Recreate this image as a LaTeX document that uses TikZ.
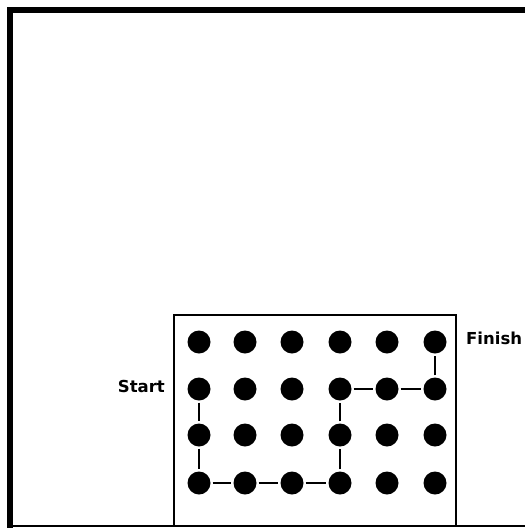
\documentclass[tikz,border=0pt]{standalone}
\usepackage{fontspec}
\setsansfont{DejaVu Sans}
\usetikzlibrary{positioning}

\begin{document}
\begin{tikzpicture}[x=1pt,y=-1pt,
    dot/.style={circle,fill=black,inner sep=0pt,minimum size=23pt},
    link/.style={line width=2pt,shorten <=2pt,shorten >=2pt},
    lbl/.style={font=\sffamily\bfseries\fontsize{16.5}{18}\selectfont,inner sep=0pt}]
  \useasboundingbox (0,0) rectangle (525,528);
  % outer frame
  \draw[line width=6pt] (9.5,528) -- (9.5,9.5) -- (525,9.5);
  \draw[line width=2pt] (9.5,526) -- (525,526);
  % board
  \draw[line width=2pt] (174,526) -- (174,315) -- (456,315) -- (456,526);
  \foreach \c/\x in {1/199,2/245,3/292,4/340,5/387,6/435}
    \foreach \r/\y in {1/342,2/389,3/435,4/483}
      \node[dot] (d\c\r) at (\x,\y) {};
  \foreach \u/\v in {d12/d13,d13/d14,d14/d24,d24/d34,d34/d44,d44/d43,d43/d42,d42/d52,d52/d62,d62/d61}
    \draw[link] (\u)--(\v);
  \node[lbl,anchor=east] (start) at (165,386) {Start};
  \node[lbl,anchor=west] (finish) at (466,338) {Finish};
\end{tikzpicture}
\end{document}
